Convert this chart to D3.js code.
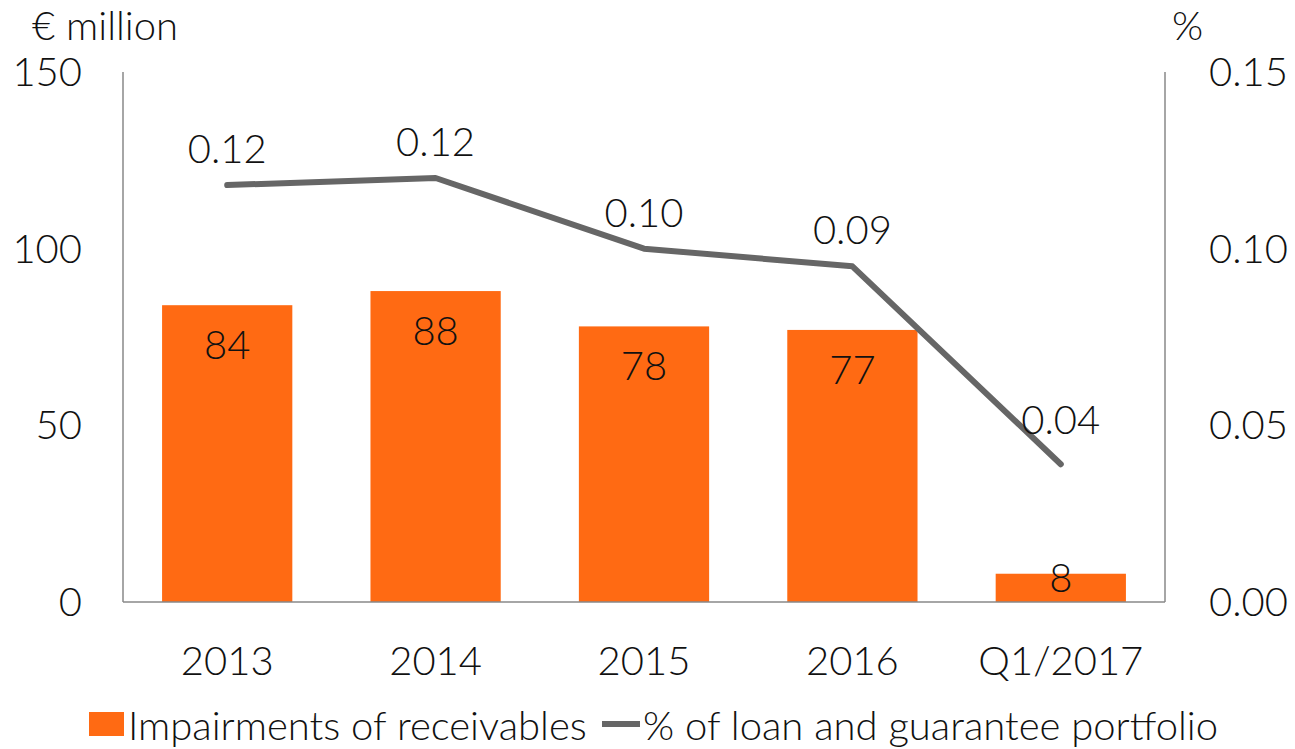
<!DOCTYPE html>
<html lang="en">
<head>
    <meta charset="UTF-8">
    <title>Impairments of receivables</title>
    <script src="https://d3js.org/d3.v7.min.js"></script>
    <style>
        body { margin: 0; background: #fff; }
        text { font-family: Lato, "Open Sans", sans-serif; font-weight: 300; fill: #111; }
    </style>
</head>
<body>
    <script>
        // data
        var categories = ["2013", "2014", "2015", "2016", "Q1/2017"];
        var impairments = [84, 88, 78, 77, 8];
        var portfolioPct = [0.118, 0.12, 0.10, 0.095, 0.039];
        var pctLabels = ["0.12", "0.12", "0.10", "0.09", "0.04"];
        var leftTicks = [0, 50, 100, 150];
        var rightTicks = [0, 0.05, 0.10, 0.15];

        var width = 1295, height = 749;
        // plot edges (note: "top" is taken by window.top)
        var plotLeft = 123, plotRight = 1165, plotTop = 72, plotBottom = 602;

        var svg = d3.select("body").append("svg")
            .attr("width", width)
            .attr("height", height);

        var x = d3.scaleBand().domain(categories).range([plotLeft, plotRight]).paddingInner(0.375).paddingOuter(0.1875);
        var y = d3.scaleLinear().domain([0, 150]).range([plotBottom, plotTop]);
        var y2 = d3.scaleLinear().domain([0, 0.15]).range([plotBottom, plotTop]);

        // bars
        svg.append("g").selectAll("rect")
            .data(impairments)
            .join("rect")
            .attr("x", (d, i) => x(categories[i]))
            .attr("y", d => y(d))
            .attr("width", x.bandwidth())
            .attr("height", d => y(0) - y(d))
            .attr("fill", "#ff6a13");

        // axes lines
        svg.append("line").attr("x1", plotLeft).attr("x2", plotLeft).attr("y1", plotTop).attr("y2", plotBottom)
            .attr("stroke", "#888").attr("stroke-width", 1.5);
        svg.append("line").attr("x1", plotRight).attr("x2", plotRight).attr("y1", plotTop).attr("y2", plotBottom)
            .attr("stroke", "#888").attr("stroke-width", 1.5);
        svg.append("line").attr("x1", plotLeft).attr("x2", plotRight).attr("y1", plotBottom).attr("y2", plotBottom)
            .attr("stroke", "#888").attr("stroke-width", 1.5);

        // bar labels
        svg.append("g").selectAll("text")
            .data(impairments)
            .join("text")
            .attr("x", (d, i) => x(categories[i]) + x.bandwidth() / 2)
            .attr("y", d => Math.min(y(d) + 54, y(0) - 10))
            .attr("text-anchor", "middle")
            .attr("font-size", 40)
            .text(d => d);

        // line
        var line = d3.line()
            .x((d, i) => x(categories[i]) + x.bandwidth() / 2)
            .y(d => y2(d));

        svg.append("path")
            .datum(portfolioPct)
            .attr("d", line)
            .attr("fill", "none")
            .attr("stroke", "#666")
            .attr("stroke-width", 6)
            .attr("stroke-linecap", "round")
            .attr("stroke-linejoin", "round");

        svg.append("g").selectAll("text")
            .data(portfolioPct)
            .join("text")
            .attr("x", (d, i) => x(categories[i]) + x.bandwidth() / 2)
            .attr("y", (d, i) => y2(d) - (i == 4 ? 30 : 22))
            .attr("text-anchor", "middle")
            .attr("font-size", 40)
            .text((d, i) => pctLabels[i]);

        // tick labels
        svg.append("g").selectAll("text")
            .data(leftTicks)
            .join("text")
            .attr("x", 82)
            .attr("y", d => y(d) + 14)
            .attr("text-anchor", "end")
            .attr("font-size", 40)
            .text(d => d);

        svg.append("g").selectAll("text")
            .data(rightTicks)
            .join("text")
            .attr("x", 1209)
            .attr("y", d => y2(d) + 14)
            .attr("font-size", 40)
            .text(d => d3.format(".2f")(d));

        svg.append("g").selectAll("text")
            .data(categories)
            .join("text")
            .attr("x", d => x(d) + x.bandwidth() / 2)
            .attr("y", 675)
            .attr("text-anchor", "middle")
            .attr("font-size", 40)
            .text(d => d);

        // unit titles
        svg.append("text").attr("x", 32).attr("y", 40).attr("font-size", 40).text("€ million");
        svg.append("text").attr("x", 1172).attr("y", 40).attr("font-size", 40).text("%");

        // legend
        svg.append("rect").attr("x", 89).attr("y", 712).attr("width", 35).attr("height", 24).attr("fill", "#ff6a13");
        svg.append("text").attr("x", 128).attr("y", 740).attr("font-size", 40).text("Impairments of receivables");
        svg.append("line").attr("x1", 602).attr("x2", 640).attr("y1", 724).attr("y2", 724)
            .attr("stroke", "#666").attr("stroke-width", 6);
        svg.append("text").attr("x", 643).attr("y", 740).attr("font-size", 40).text("% of loan and guarantee portfolio");
    </script>
</body>
</html>
